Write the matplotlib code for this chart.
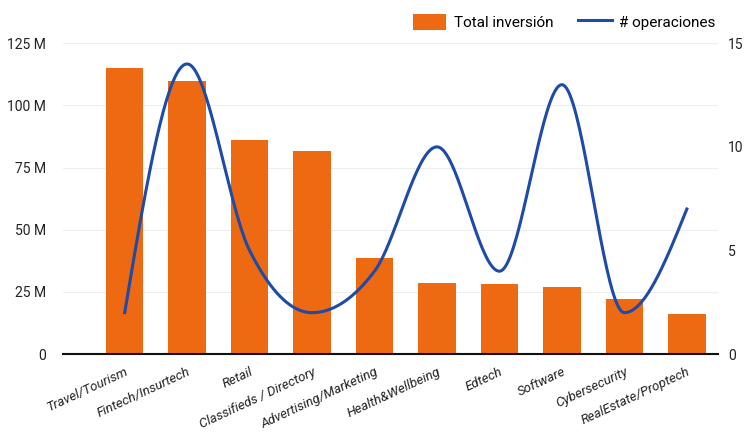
import matplotlib
matplotlib.use("Agg")
import matplotlib.pyplot as plt
import numpy as np
from matplotlib.patches import Patch
from matplotlib.lines import Line2D

categories = ["Travel/Tourism", "Fintech/Insurtech", "Retail", "Classifieds / Directory",
              "Advertising/Marketing", "Health&Wellbeing", "Edtech", "Software",
              "Cybersecurity", "RealEstate/Proptech"]
inversion_m = [115.2, 110.0, 86.0, 81.7, 38.8, 28.4, 28.1, 26.8, 22.1, 16.2]
operaciones = [2, 14, 5, 2, 4, 10, 4, 13, 2, 7]

ORANGE = "#EE6A12"
BLUE = "#1E4AA8"

plt.rcParams.update({
    "font.family": ["Roboto", "DejaVu Sans"],
    "font.size": 10,
})


def monotone_curve(x, y, n=40):
    # d3 curveMonotoneX style smoothing for drawing the line
    x = np.asarray(x, float)
    y = np.asarray(y, float)
    h = np.diff(x)
    s = np.diff(y) / h
    m = np.zeros_like(y)
    for i in range(1, len(y) - 1):
        p = (s[i - 1] * h[i] + s[i] * h[i - 1]) / (h[i - 1] + h[i])
        m[i] = (np.sign(s[i - 1]) + np.sign(s[i])) * min(abs(s[i - 1]), abs(s[i]), 0.5 * abs(p))
    m[0] = (3 * s[0] - m[1]) / 2
    m[-1] = (3 * s[-1] - m[-2]) / 2
    xs, ys = [], []
    for i in range(len(h)):
        t = np.linspace(0, 1, n)
        h00 = 2 * t**3 - 3 * t**2 + 1
        h10 = t**3 - 2 * t**2 + t
        h01 = -2 * t**3 + 3 * t**2
        h11 = t**3 - t**2
        xs.append(x[i] + t * h[i])
        ys.append(h00 * y[i] + h10 * h[i] * m[i] + h01 * y[i + 1] + h11 * h[i] * m[i + 1])
    return np.concatenate(xs), np.concatenate(ys)


fig = plt.figure(figsize=(7.48, 4.41), dpi=100)
ax = fig.add_axes([0.084, 0.197, 0.876, 0.705])
ax2 = ax.twinx()

x = np.arange(len(categories))
ax.bar(x, inversion_m, 0.6, color=ORANGE, zorder=2)
ax.set_ylim(0, 125)
ax.set_xlim(-0.99, 9.5)
ax.set_yticks([0, 25, 50, 75, 100, 125])
ax.set_yticklabels(["0", "25 M", "50 M", "75 M", "100 M", "125 M"])
ax.grid(axis="y", color="#eeeeee", linewidth=0.8, zorder=0)
ax.set_axisbelow(True)

cx, cy = monotone_curve(x, operaciones)
ax2.plot(cx, cy, color=BLUE, linewidth=2.2, zorder=3)
ax2.set_ylim(0, 15)
ax2.set_yticks([0, 5, 10, 15])

for a in (ax, ax2):
    for sp in ("top", "right", "left"):
        a.spines[sp].set_visible(False)
    a.tick_params(length=0, labelsize=10, labelcolor="#222222")
ax2.spines["bottom"].set_visible(False)
ax.spines["bottom"].set_color("#111111")
ax.spines["bottom"].set_linewidth(1.5)
ax.tick_params(axis="y", pad=12)
ax2.tick_params(axis="y", pad=7)

ax.set_xticks(x)
ax.set_xticklabels(categories, rotation=25, ha="right", rotation_mode="anchor",
                   fontsize=9.5, style="italic", color="#222222")
ax.tick_params(axis="x", pad=8)

handles = [Patch(facecolor=ORANGE, edgecolor="none"),
           Line2D([0], [0], color=BLUE, linewidth=2.2)]
fig.legend(handles, ["Total inversión", "# operaciones"], loc="upper right",
           bbox_to_anchor=(0.975, 1.0), ncol=2, frameon=False, fontsize=11,
           handlelength=2.2, handleheight=1.3, columnspacing=1.6, handletextpad=0.5)

fig.savefig("out.png", dpi=100)
